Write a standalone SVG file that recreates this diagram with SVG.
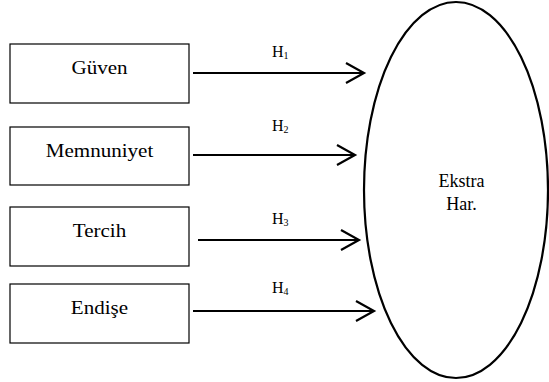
<svg xmlns="http://www.w3.org/2000/svg" width="549" height="382" viewBox="0 0 549 382">
<style>
.box{fill:#fff;stroke:#000;stroke-width:1.2}
.lbl{font-size:18px;fill:#000;text-anchor:middle}
.h{font-size:16px;fill:#000}
.sub{font-size:10px}
.arr{fill:none;stroke:#000;stroke-width:2.2;marker-end:url(#ah)}
</style>
<defs>
<marker id="ah" markerUnits="userSpaceOnUse" markerWidth="24" markerHeight="24" viewBox="-20 -12 24 24" refX="0" refY="0" orient="auto" overflow="visible">
<path d="M-18,-10 L0,0 L-18,10" fill="none" stroke="#000" stroke-width="2.2"/>
</marker>
</defs>
<rect width="549" height="382" fill="#fff"/>
<g font-family="Liberation Serif, DejaVu Serif, serif">
<g id="node-guven"><rect class="box" x="10" y="44" width="179" height="59"/><text class="lbl" transform="translate(99.5,74) scale(1.17,1)">Güven</text></g>
<g id="node-memnuniyet"><rect class="box" x="10" y="127" width="179" height="58"/><text class="lbl" transform="translate(99.5,157) scale(1.17,1)">Memnuniyet</text></g>
<g id="node-tercih"><rect class="box" x="10" y="207" width="179" height="59"/><text class="lbl" transform="translate(99.5,237) scale(1.17,1)">Tercih</text></g>
<g id="node-endise"><rect class="box" x="10" y="284" width="179" height="59"/><text class="lbl" transform="translate(99.5,314) scale(1.17,1)">Endişe</text></g>
<g id="node-ekstra"><ellipse cx="456" cy="190" rx="92" ry="188" fill="none" stroke="#000" stroke-width="2.2"/><text class="lbl" x="461.5" y="187">Ekstra</text><text class="lbl" x="461.5" y="210">Har.</text></g>
<g id="connectors">
<line class="arr" x1="193" y1="73" x2="364" y2="73"/>
<line class="arr" x1="193" y1="155" x2="355" y2="155"/>
<line class="arr" x1="198" y1="240" x2="359" y2="240"/>
<line class="arr" x1="193" y1="311" x2="374" y2="311"/>
<text class="h" x="272" y="57">H<tspan class="sub" dy="2">1</tspan></text>
<text class="h" x="272" y="131">H<tspan class="sub" dy="2">2</tspan></text>
<text class="h" x="272" y="224">H<tspan class="sub" dy="2">3</tspan></text>
<text class="h" x="272" y="293">H<tspan class="sub" dy="2">4</tspan></text>
</g>
</g>
</svg>
